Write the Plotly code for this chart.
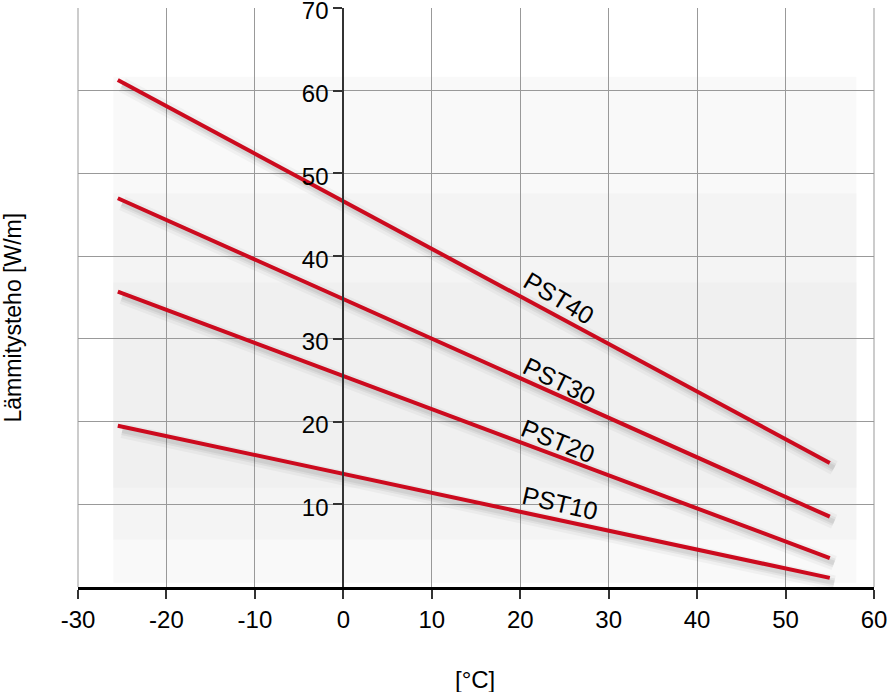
import plotly.graph_objects as go

# Heating output of the PST cables vs. temperature
temps = [-25.5, 55]
pst40 = [61.3, 15.0]
pst30 = [47.0, 8.5]
pst20 = [35.7, 3.5]
pst10 = [19.5, 1.1]
series = {"PST40": pst40, "PST30": pst30, "PST20": pst20, "PST10": pst10}

# label positions along the lines
label_x = [24.4, 24.4, 24.3, 24.5]
label_y = [35.0, 24.9, 17.7, 10.2]
label_angle = [31, 26, 22, 13]

xticks = [-30, -20, -10, 0, 10, 20, 30, 40, 50, 60]
xlabels = ["-30", "-20", "-10", "0", "10", "20", "30", "40", "50", "60"]
yticks = [10, 20, 30, 40, 50, 60, 70]

fig = go.Figure()

# soft grey background bands
bands = [
    (0.5, 61.7, "#f9f9f9"),
    (5.7, 47.6, "#f4f4f4"),
    (12.0, 36.8, "#f0f0f0"),
]
for y0, y1, c in bands:
    fig.add_shape(type="rect", xref="x", yref="y", x0=-26, x1=58, y0=y0, y1=y1,
                  fillcolor=c, line_width=0, layer="below")

# drop shadow under the lines
for name, vals in series.items():
    for w, a in [(15, 0.035), (9, 0.05), (5, 0.06)]:
        fig.add_trace(go.Scatter(x=[t + 0.5 for t in temps], y=[v - 0.6 for v in vals],
                                 mode="lines", line=dict(color=f"rgba(0,0,0,{a})", width=w),
                                 hoverinfo="skip", showlegend=False))

for name, vals in series.items():
    fig.add_trace(go.Scatter(x=temps, y=vals, mode="lines", name=name,
                             line=dict(color="#cc0a1e", width=4), showlegend=False))

for (name, vals), lx, ly, ang in zip(series.items(), label_x, label_y, label_angle):
    fig.add_annotation(x=lx, y=ly, text=name, showarrow=False, textangle=ang,
                       font=dict(size=25, color="black", family="Liberation Sans"))

fig.update_layout(
    width=887, height=692,
    margin=dict(l=78, r=13, t=8, b=105),
    paper_bgcolor="white", plot_bgcolor="white",
    font=dict(family="Liberation Sans", color="black"),
    xaxis=dict(range=[-30, 60], tickvals=xticks, ticktext=xlabels, showgrid=True,
               gridcolor="#999999", gridwidth=1, zeroline=False, showline=True,
               linecolor="black", linewidth=2.5, automargin=False,
               ticks="outside", ticklen=9, tickwidth=1.5, tickcolor="#333",
               tickfont=dict(size=24), ticklabeloverflow="allow"),
    yaxis=dict(range=[0, 70], tickvals=yticks, showgrid=True, gridcolor="#999999",
               gridwidth=1, zeroline=False, showline=True, linecolor="#333", linewidth=2,
               anchor="free", position=1 / 3, ticks="outside", ticklen=9, tickwidth=1.5,
               tickcolor="#333", tickfont=dict(size=24), automargin=False,
               ticklabeloverflow="allow", ticklabelshift=3),
)

# frame lines on left and right edges
fig.add_shape(type="line", xref="paper", yref="paper", x0=0, x1=0, y0=0, y1=1,
              line=dict(color="#999999", width=1))
fig.add_shape(type="line", xref="paper", yref="paper", x0=1, x1=1, y0=0, y1=1,
              line=dict(color="#999999", width=1))

# axis titles
fig.add_annotation(xref="paper", yref="paper", x=-0.082, y=0.465, text="Lämmitysteho [W/m]",
                   textangle=-90, showarrow=False, xanchor="center", yanchor="middle",
                   font=dict(size=23))
fig.add_annotation(xref="paper", yref="paper", x=0.499, y=-0.159, text="[°C]",
                   showarrow=False, xanchor="center", yanchor="middle",
                   font=dict(size=24))

# page has a default body margin; drop it so the figure fills the window
fig.write_html("out.html", config={"displayModeBar": False},
               post_script="document.body.style.margin='0';")
